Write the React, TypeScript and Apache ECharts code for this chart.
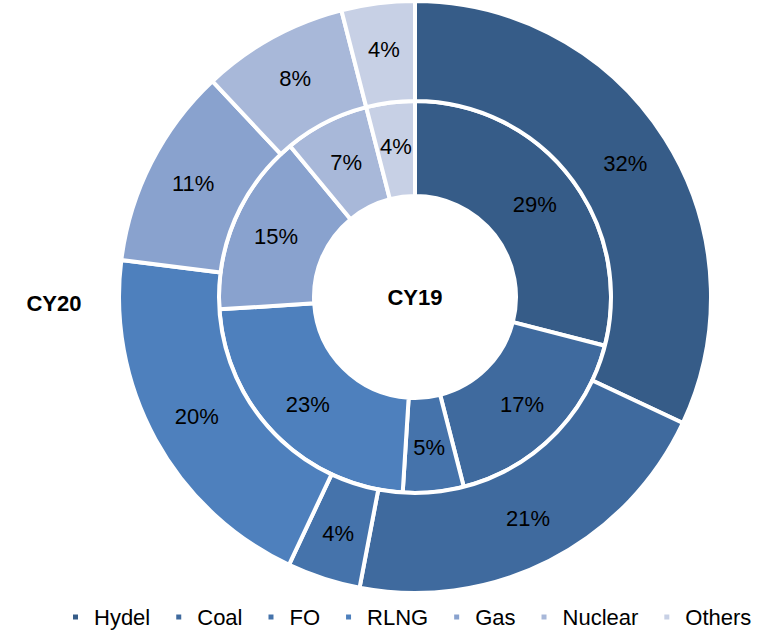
import React, { useEffect, useRef } from "react";
import * as echarts from "echarts";

const categories = ["Hydel", "Coal", "FO", "RLNG", "Gas", "Nuclear", "Others"];
const cy19Values = [29, 17, 5, 23, 15, 7, 4];
const cy20Values = [32, 21, 4, 20, 11, 8, 4];
const colors = ["#365C88", "#3F6A9E", "#4573AB", "#4E80BD", "#89A2CE", "#A8B8D9", "#C7D0E5"];

const FONT = "'Liberation Sans', Arial, sans-serif";

export default function App() {
  const ref = useRef<HTMLDivElement>(null);
  useEffect(() => {
    document.body.style.margin = "0";
    const chart = echarts.init(ref.current!, null, { renderer: "svg" });
    const labelStyle = {
      show: true,
      position: "inside" as const,
      formatter: "{c}%",
      color: "#000",
      fontSize: 22,
      fontFamily: FONT,
    };
    const itemStyle = { borderColor: "#fff", borderWidth: 4 };
    chart.setOption({
      animation: false,
      color: colors,
      legend: {
        data: categories,
        left: 71,
        top: 605,
        padding: 0,
        icon: "rect",
        itemWidth: 7,
        itemHeight: 7,
        itemGap: 24,
        textStyle: {
          fontSize: 22,
          lineHeight: 24,
          fontFamily: FONT,
          color: "#000",
          padding: [0, 0, 0, 10],
        },
      },
      graphic: [
        {
          type: "text",
          x: 415,
          y: 297,
          style: {
            text: "CY19",
            font: `bold 22px ${FONT}`,
            fill: "#000",
            align: "center",
            verticalAlign: "middle",
          },
        },
        {
          type: "text",
          x: 54,
          y: 303,
          style: {
            text: "CY20",
            font: `bold 22px ${FONT}`,
            fill: "#000",
            align: "center",
            verticalAlign: "middle",
          },
        },
      ],
      series: [
        {
          name: "CY19",
          type: "pie",
          center: [415, 297],
          radius: [101, 196],
          startAngle: 90,
          clockwise: true,
          avoidLabelOverlap: false,
          label: labelStyle,
          labelLine: { show: false },
          itemStyle,
          emphasis: { disabled: true },
          data: categories.map((name, i) => ({ name, value: cy19Values[i] })),
        },
        {
          name: "CY20",
          type: "pie",
          center: [415, 297],
          radius: [196, 296],
          startAngle: 90,
          clockwise: true,
          avoidLabelOverlap: false,
          label: labelStyle,
          labelLine: { show: false },
          itemStyle,
          emphasis: { disabled: true },
          data: categories.map((name, i) => ({ name, value: cy20Values[i] })),
        },
      ],
    });
    return () => chart.dispose();
  }, []);
  return <div ref={ref} style={{ width: 780, height: 632 }} />;
}
